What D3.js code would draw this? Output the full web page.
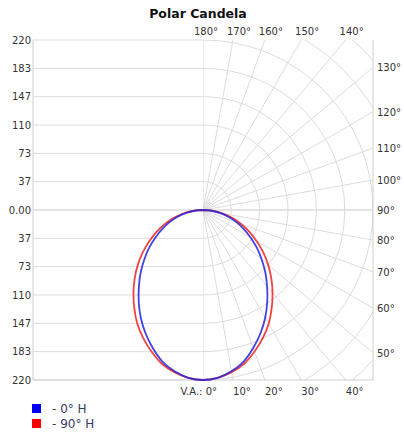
<!DOCTYPE html>
<html><head><meta charset="utf-8">
<script src="https://cdn.jsdelivr.net/npm/d3@7"></script>
<style>body{margin:0;background:#fff}svg{display:block}</style>
</head><body>
<svg id="c" width="404" height="437"></svg>
<script>
// ---- data ----
const angles = [0,5,10,15,20,25,30,35,40,45,50,55,60,65,70,75,80,85,90];
const cand0H  = [220,218,212,203,190,176,161,145,129,114,99,85,71,58,46,34,22,11,0];
const cand90H = [220,218,213,206,195,183,170,155,140,125,110,95,80,66,52,39,26,13,0];
const seriesNames = ["- 0° H","- 90° H"];
const seriesColors = ["#2222dd","#ee2222"];
const yTickValues = [-220,-183.3,-146.7,-110,-73.3,-36.7,0,36.7,73.3,110,146.7,183.3,220];
const yTickLabels = ["220","183","147","110","73","37","0.00","37","73","110","147","183","220"];
const gridAngles = [0,10,20,30,40,50,60,70,80,90,100,110,120,130,140,150,160,170,180];
const rings = [36.67,73.33,110,146.67,183.33,220,256.67,293.33];
const maxCd = 220;

// ---- layout ----
const svg = d3.select("#c");
const cx = 203, cy = 210, R = 170;
const pLeft = cx - R, pRight = 373, pTop = cy - R, pBottom = cy + R;
const r = d3.scaleLinear().domain([0, maxCd]).range([0, R]);
const y = d3.scaleLinear().domain([-maxCd, maxCd]).range([pTop, pBottom]);
const grid = "#dcdcdc";
const font = "DejaVu Sans, Verdana, sans-serif";

svg.append("text").attr("x", 198).attr("y", 18).attr("text-anchor","middle")
  .attr("font-family", font).attr("font-weight","bold").attr("font-size", 12.5)
  .attr("fill","#111").text("Polar Candela");

// left half horizontal grid
svg.append("g").selectAll("line").data(yTickValues).join("line")
  .attr("x1", pLeft).attr("x2", cx).attr("y1", d => y(d)).attr("y2", d => y(d))
  .attr("stroke", grid).attr("stroke-width", 1);
svg.append("line").attr("x1", pLeft).attr("x2", pLeft).attr("y1", pTop).attr("y2", pBottom)
  .attr("stroke", "#cfcfcf");
svg.append("g").selectAll("text").data(yTickValues).join("text")
  .attr("x", pLeft - 2).attr("y", d => y(d) + 3.5).attr("text-anchor","end")
  .attr("font-family", font).attr("font-size", 10).attr("fill","#333")
  .text((d,i) => yTickLabels[i]);

// right half polar grid, clipped
svg.append("clipPath").attr("id","rc").append("rect")
  .attr("x", cx).attr("y", pTop).attr("width", pRight - cx).attr("height", pBottom - pTop);
const pg = svg.append("g").attr("clip-path","url(#rc)");
pg.selectAll("path").data(rings).join("path")
  .attr("transform", `translate(${cx},${cy})`)
  .attr("d", d => { const p = d3.path(); p.arc(0, 0, r(d), -Math.PI/2, Math.PI/2); return p.toString(); })
  .attr("fill","none").attr("stroke", grid);

function edgePoint(deg) {
  const t = deg * Math.PI / 180, sx = Math.sin(t), sy = Math.cos(t);
  let k = Infinity;
  if (sx > 1e-9) k = Math.min(k, (pRight - cx) / sx);
  if (sy > 1e-9) k = Math.min(k, (pBottom - cy) / sy);
  if (sy < -1e-9) k = Math.min(k, (pTop - cy) / sy);
  return [cx + k * sx, cy + k * sy];
}
pg.selectAll("line").data(gridAngles).join("line")
  .attr("x1", cx).attr("y1", cy)
  .attr("x2", d => edgePoint(d)[0]).attr("y2", d => edgePoint(d)[1])
  .attr("stroke", grid);
svg.append("line").attr("x1", pRight).attr("x2", pRight).attr("y1", pTop).attr("y2", pBottom).attr("stroke","#cfcfcf");
svg.append("line").attr("x1", pLeft).attr("x2", pRight).attr("y1", pBottom).attr("y2", pBottom).attr("stroke","#cfcfcf");
svg.append("line").attr("x1", pLeft).attr("x2", pRight).attr("y1", cy).attr("y2", cy).attr("stroke", grid);

// angle labels
const lab = svg.append("g").attr("font-family", font).attr("font-size", 10).attr("fill","#333");
gridAngles.forEach(a => {
  const [ex, ey] = edgePoint(a);
  if (a === 0) {
    lab.append("text").attr("x", ex + 14).attr("y", pBottom + 15).attr("text-anchor","end").text("V.A.: 0°");
  } else if (a < 50) {
    lab.append("text").attr("x", ex + 9).attr("y", pBottom + 15).attr("text-anchor","middle").text(a + "°");
  } else if (a <= 130) {
    lab.append("text").attr("x", pRight + 4).attr("y", ey + 4).attr("text-anchor","start").text(a + "°");
  } else {
    lab.append("text").attr("x", ex + (a === 180 ? 3 : 6)).attr("y", pTop - 5).attr("text-anchor","middle").text(a + "°");
  }
});

// curves
function pts(vals) {
  const out = [];
  for (let i = angles.length - 1; i > 0; i--) out.push([-angles[i], vals[i]]);
  for (let i = 0; i < angles.length; i++) out.push([angles[i], vals[i]]);
  return out;
}
const radial = d3.lineRadial()
  .angle(d => Math.PI - d[0] * Math.PI / 180)
  .radius(d => r(d[1]))
  .curve(d3.curveCatmullRom);
[[cand90H, 1], [cand0H, 0]].forEach(([vals, idx]) => {
  svg.append("path").attr("transform", `translate(${cx},${cy})`)
    .attr("d", radial(pts(vals))).attr("fill","none")
    .attr("stroke", seriesColors[idx]).attr("stroke-width", 1.8).attr("stroke-opacity", 0.85);
});

// legend
const lg = svg.append("g").attr("font-family", font).attr("font-size", 12).attr("fill","#3a3a66");
seriesNames.forEach((n, i) => {
  lg.append("rect").attr("x", 32).attr("y", 404 + i * 15).attr("width", 9).attr("height", 9)
    .attr("fill", i === 0 ? "#0000ff" : "#ff0000");
  lg.append("text").attr("x", 52).attr("y", 413 + i * 15).text(n);
});
</script>
</body></html>
